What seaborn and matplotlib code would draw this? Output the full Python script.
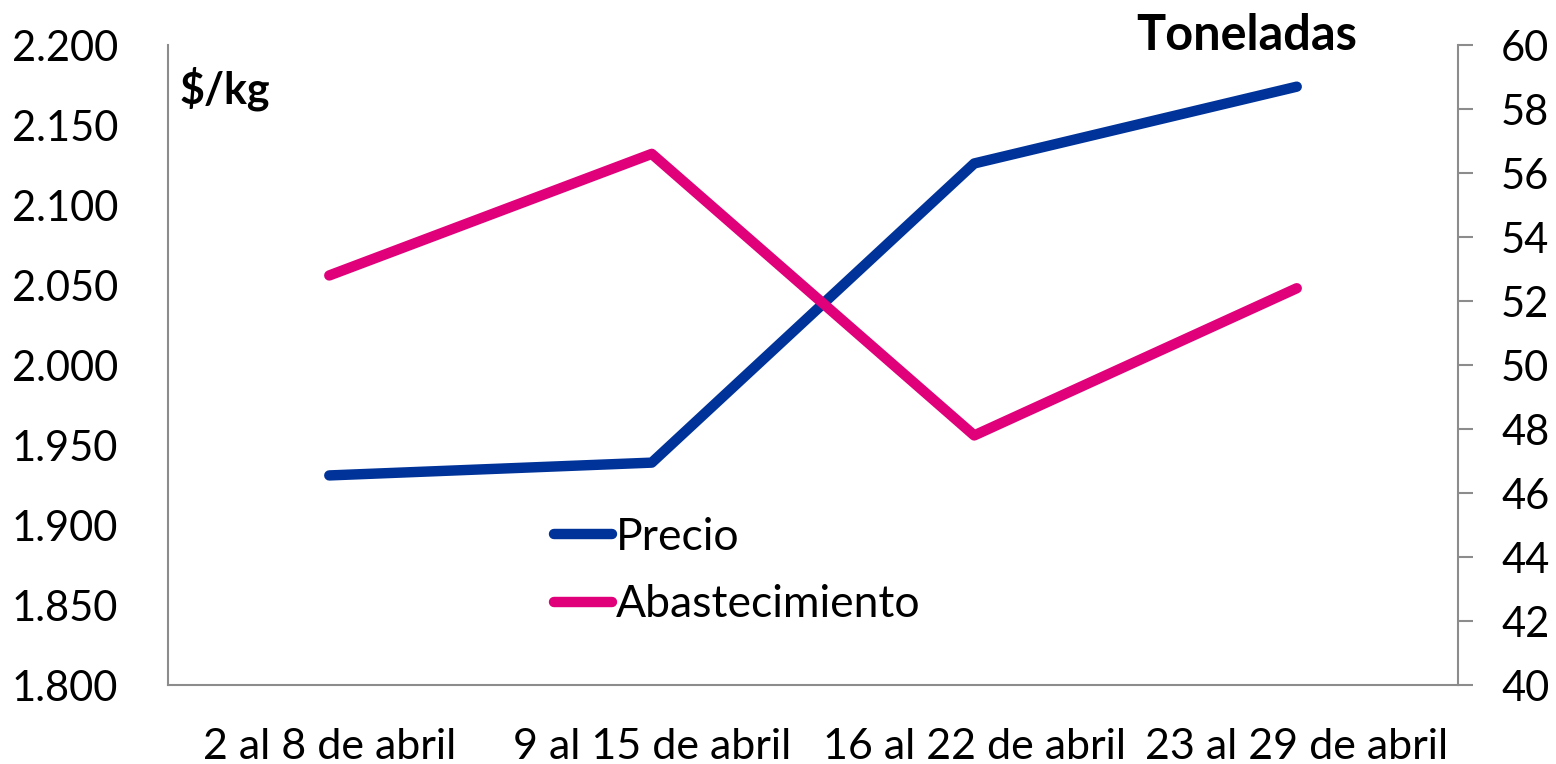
import pandas as pd
import matplotlib.pyplot as plt
import seaborn as sns
from matplotlib.ticker import FuncFormatter

sns.set_theme(style="white")
plt.rcParams['font.family'] = ['Lato', 'DejaVu Sans']
plt.rcParams['text.color'] = 'black'

semanas = ['2 al 8 de abril', '9 al 15 de abril', '16 al 22 de abril', '23 al 29 de abril']
precio = [1931, 1939, 2126, 2174]
abastecimiento = [52.8, 56.6, 47.8, 52.4]

df = pd.DataFrame({'semana': semanas, 'precio': precio, 'abastecimiento': abastecimiento})

fig = plt.figure(figsize=(15.56, 7.64), dpi=100)
ax = fig.add_axes([0.108, 0.1034, 0.829, 0.8376])
ax2 = ax.twinx()

sns.lineplot(x='semana', y='precio', data=df, ax=ax, color='#003399', linewidth=7.5,
             solid_capstyle='round', label='Precio', legend=False)
sns.lineplot(x='semana', y='abastecimiento', data=df, ax=ax2, color='#E0007A', linewidth=7.5,
             solid_capstyle='round', label='Abastecimiento', legend=False)

ax.set_xlim(-0.5, 3.5)
ax.set_ylim(1800, 2200)
ax.set_yticks(range(1800, 2201, 50))
ax.yaxis.set_major_formatter(FuncFormatter(lambda v, p: f'{v/1000:.3f}'))
ax2.set_ylim(40, 60)
ax2.set_yticks(range(40, 61, 2))

for a in (ax, ax2):
    a.set_xlabel('')
    a.set_ylabel('')
    a.grid(False)
    for s in a.spines.values():
        s.set_visible(False)

ax.spines['left'].set_visible(True)
ax.spines['bottom'].set_visible(True)
ax2.spines['right'].set_visible(True)
for s in (ax.spines['left'], ax.spines['bottom'], ax2.spines['right']):
    s.set_color('#8c8c8c')
    s.set_linewidth(1.5)

ax.tick_params(axis='y', left=False, labelsize=30, colors='black', pad=30)
ax.tick_params(axis='x', bottom=False, labelsize=31, colors='black', pad=25)
ax2.tick_params(axis='y', right=True, direction='out', length=11, width=1.5,
                color='#8c8c8c', labelcolor='black', labelsize=30, pad=20)

ax.text(0.009, 0.966, '$/kg', transform=ax.transAxes, fontsize=31, fontweight='bold',
        va='top', color='black')
ax.text(0.922, 1.05, 'Toneladas', transform=ax.transAxes, fontsize=35, fontweight='bold',
        va='top', ha='right', color='black')

h1, l1 = ax.get_legend_handles_labels()
h2, l2 = ax2.get_legend_handles_labels()
leg = ax.legend(h1 + h2, l1 + l2, loc='center left', bbox_to_anchor=(0.268, 0.178), frameon=False,
                fontsize=32, handlelength=1.3, handletextpad=0.1, labelspacing=0.6)
for t in leg.get_texts():
    t.set_color('black')

fig.savefig('out.png', dpi=100)
